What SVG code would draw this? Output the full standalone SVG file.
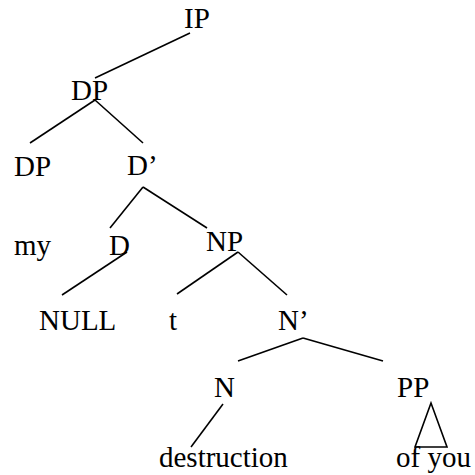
<svg xmlns="http://www.w3.org/2000/svg" width="475" height="475" viewBox="0 0 475 475">
  <style>
    .lbl { font-size: 29px; fill: #000; }
    .edge { stroke: #000; stroke-width: 1.6; fill: none; stroke-linecap: butt; }
  </style>
  <rect width="475" height="475" fill="#fff"/>
  <g id="edges">
    <line class="edge" x1="190" y1="33" x2="95" y2="78"/>
    <line class="edge" x1="95" y1="100" x2="30" y2="143"/>
    <line class="edge" x1="95" y1="100" x2="143" y2="143"/>
    <line class="edge" x1="143" y1="187" x2="110" y2="228"/>
    <line class="edge" x1="143" y1="187" x2="207" y2="228"/>
    <line class="edge" x1="127" y1="252" x2="62" y2="295"/>
    <line class="edge" x1="238" y1="252" x2="177" y2="294"/>
    <line class="edge" x1="238" y1="252" x2="287" y2="295"/>
    <line class="edge" x1="303" y1="338" x2="238" y2="361"/>
    <line class="edge" x1="303" y1="338" x2="383" y2="361"/>
    <line class="edge" x1="223" y1="404" x2="191" y2="447"/>
    <polygon class="edge" points="431,403 415,447 447,447"/>
  </g>
  <g font-family="'Liberation Serif', 'Times New Roman', 'DejaVu Serif', serif">
    <g id="ip"><text class="lbl" x="184" y="28">IP</text></g>
    <g id="dp"><text class="lbl" x="71" y="100">DP</text></g>
    <g id="dp-spec"><text class="lbl" x="14" y="176">DP</text></g>
    <g id="d-bar"><text class="lbl" x="127" y="175">D’</text></g>
    <g id="my"><text class="lbl" x="14" y="255">my</text></g>
    <g id="d"><text class="lbl" x="109" y="255">D</text></g>
    <g id="np"><text class="lbl" x="206" y="251">NP</text></g>
    <g id="null"><text class="lbl" x="39" y="330">NULL</text></g>
    <g id="t"><text class="lbl" x="169" y="330">t</text></g>
    <g id="n-bar"><text class="lbl" x="278" y="330">N’</text></g>
    <g id="n"><text class="lbl" x="214" y="397">N</text></g>
    <g id="pp"><text class="lbl" x="397" y="397">PP</text></g>
    <g id="destruction"><text class="lbl" x="159" y="467">destruction</text></g>
    <g id="of-you"><text class="lbl" x="396" y="467">of you</text></g>
  </g>
</svg>
